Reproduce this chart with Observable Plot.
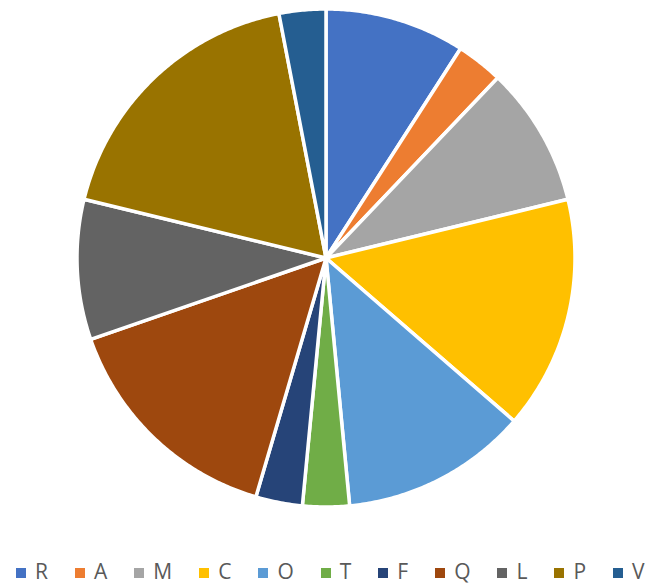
<!DOCTYPE html>
<html>
<head>
<meta charset="utf-8">
<script src="https://cdn.jsdelivr.net/npm/d3@7"></script>
<script src="https://cdn.jsdelivr.net/npm/@observablehq/plot@0.6"></script>
<style>
  html, body { margin: 0; padding: 0; background: #fff; }
  #wrap { position: relative; width: 648px; height: 586px; }
  #legend {
    position: absolute; left: 16px; top: 561px;
    display: flex; align-items: center;
    font-family: "Open Sans", sans-serif; font-size: 21px; line-height: 21px;
    color: #595959;
  }
  .item { display: flex; align-items: center; margin-right: 27px; }
  .sw { width: 10px; height: 10px; margin-right: 9px; position: relative; top: 1px; }
</style>
</head>
<body>
<div id="wrap"><div id="chart"></div><div id="legend"></div></div>
<script>
// Data
const categories = ["R", "A", "M", "C", "O", "T", "F", "Q", "L", "P", "V"];
const values = [3, 1, 3, 5, 4, 1, 1, 5, 3, 6, 1];
const colors = ["#4472C4", "#ED7D31", "#A5A5A5", "#FFC000", "#5B9BD5", "#70AD47",
                "#264478", "#9E480E", "#636363", "#997300", "#255E91"];

// Build slice polygons in unit-circle data space (clockwise from 12 o'clock)
const total = d3.sum(values);
const pts = [];
let acc = 0;
categories.forEach((key, i) => {
  const a0 = acc / total * 2 * Math.PI;
  acc += values[i];
  const a1 = acc / total * 2 * Math.PI;
  const n = Math.max(2, Math.ceil((a1 - a0) / (Math.PI / 360)));
  pts.push({key, x: 0, y: 0});
  for (let k = 0; k <= n; k++) {
    const a = a0 + (a1 - a0) * k / n;
    pts.push({key, x: Math.sin(a), y: Math.cos(a)});
  }
  pts.push({key, x: 0, y: 0});
});

const chart = Plot.plot({
  width: 648,
  height: 520,
  marginLeft: 76.5,
  marginRight: 73.5,
  marginTop: 8.5,
  marginBottom: 13.5,
  x: {domain: [-1, 1], axis: null},
  y: {domain: [-1, 1], axis: null},
  color: {domain: categories, range: colors},
  marks: [
    Plot.line(pts, {
      x: "x", y: "y", z: "key", fill: "key",
      stroke: "white", strokeWidth: 3.5, strokeLinejoin: "round",
      curve: "linear"
    })
  ]
});
document.getElementById("chart").appendChild(chart);

// Legend
const legend = document.getElementById("legend");
categories.forEach((c, i) => {
  const it = document.createElement("div");
  it.className = "item";
  const sw = document.createElement("span");
  sw.className = "sw";
  sw.style.background = colors[i];
  const t = document.createElement("span");
  t.textContent = c;
  it.appendChild(sw); it.appendChild(t);
  legend.appendChild(it);
});
</script>
</body>
</html>
